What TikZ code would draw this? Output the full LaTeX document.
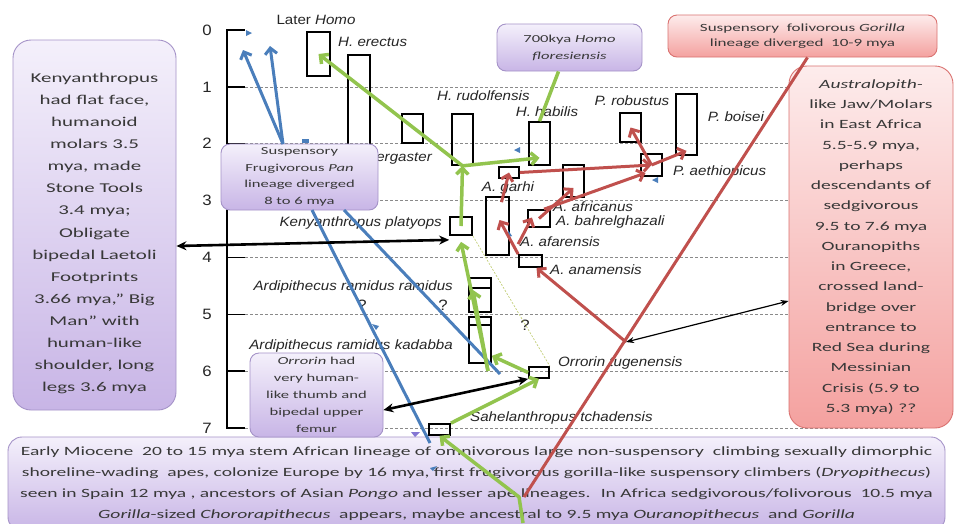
\documentclass[tikz,border=0pt]{standalone}
\usepackage{fontspec}
\setmainfont{Carlito}
\newfontfamily\boxfont{Carlito}[FakeStretch=1.55]
\newfontfamily\labfont{Liberation Sans}[FakeStretch=1.12]
\usetikzlibrary{arrows.meta,positioning}
\definecolor{lavtop}{HTML}{F4F0FB}
\definecolor{lavbot}{HTML}{C8B5E6}
\definecolor{lavrim}{HTML}{A593C8}
\definecolor{pinktop}{HTML}{FDECEC}
\definecolor{pinkbot}{HTML}{F4A19F}
\definecolor{pinkrim}{HTML}{DA7270}
\definecolor{lgreen}{HTML}{92C44E}
\definecolor{lred}{HTML}{C0504D}
\definecolor{lblue}{HTML}{4A7EBB}
\definecolor{boxtext}{HTML}{383838}
\definecolor{guide}{HTML}{8A8A8A}
\definecolor{olivedot}{HTML}{C4D07A}

\begin{document}
\begin{tikzpicture}[x=1pt,y=-1pt,>={Straight Barb[length=6pt,width=12pt]},
spbar/.style={draw,line width=1.7pt,inner sep=0pt},
sp/.style={font=\labfont\itshape\fontsize{13.5}{16}\selectfont,inner sep=0pt,text=black!85},
yr/.style={font=\labfont\fontsize{15}{17}\selectfont,inner sep=0pt,text=black!85},
guideline/.style={guide,line width=0.8pt,dash pattern=on 3pt off 2pt},
axisline/.style={line width=1.6pt},
lavbox/.style={draw=lavrim,line width=0.9pt,rounded corners=9pt,top color=lavtop,bottom color=lavbot,align=center,text=boxtext,inner sep=0pt},
pinkbox/.style={draw=pinkrim,line width=0.9pt,rounded corners=9pt,top color=pinktop,bottom color=pinkbot,align=center,text=boxtext,inner sep=0pt},
grn/.style={->,lgreen,line width=3.5pt},
rd/.style={->,lred,line width=3pt},
blu/.style={->,lblue,line width=3pt},
blk/.style={{Stealth[length=10pt,width=9pt]}-{Stealth[length=10pt,width=9pt]},line width=2.6pt},
thinblk/.style={{Stealth[length=8pt,width=6pt]}-{Stealth[length=8pt,width=6pt]},line width=1.2pt},
bluemark/.style={fill=lblue}]
\useasboundingbox (0,0) rectangle (957,523);
\fill[white] (0,0) rectangle (957,523);

\draw[guideline] (245,86.9) -- (925,86.9);
\draw[guideline] (245,143.7) -- (925,143.7);
\draw[guideline] (245,200.6) -- (925,200.6);
\draw[guideline] (245,257.4) -- (925,257.4);
\draw[guideline] (245,314.3) -- (925,314.3);
\draw[guideline] (245,371.1) -- (925,371.1);
\draw[guideline] (245,428) -- (925,428);
\draw[axisline] (245,30) -- (227,30) -- (227,428) -- (245,428);
\draw[axisline] (227,86.9) -- (245,86.9);
\draw[axisline] (227,143.7) -- (245,143.7);
\draw[axisline] (227,200.6) -- (245,200.6);
\draw[axisline] (227,257.4) -- (245,257.4);
\draw[axisline] (227,314.3) -- (245,314.3);
\draw[axisline] (227,371.1) -- (245,371.1);
\node[yr] (y0) at (207,30) {0};
\node[yr] (y1) at (207,86.9) {1};
\node[yr] (y2) at (207,143.7) {2};
\node[yr] (y3) at (207,200.6) {3};
\node[yr] (y4) at (207,257.4) {4};
\node[yr] (y5) at (207,314.3) {5};
\node[yr] (y6) at (207,371.1) {6};
\node[yr] (y7) at (207,428) {7};

\node[spbar,minimum width=23pt,minimum height=44pt] (erectus) at (318.5,54) {};
\node[spbar,minimum width=22pt,minimum height=125pt] (ergaster) at (359,117.5) {};
\node[spbar,minimum width=21pt,minimum height=29pt] (earlyhomo) at (412.5,128.5) {};
\node[spbar,minimum width=21pt,minimum height=51pt] (rudolfensis) at (462.5,139.5) {};
\node[spbar,minimum width=21pt,minimum height=43pt] (habilis) at (539.5,143.5) {};
\node[spbar,minimum width=20pt,minimum height=11pt] (garhi) at (509,172.5) {};
\node[spbar,minimum width=21pt,minimum height=32pt] (africanus) at (573.5,181) {};
\node[spbar,minimum width=22pt,minimum height=17pt] (bahr) at (539,218.5) {};
\node[spbar,minimum width=23pt,minimum height=58pt] (afarensis) at (497.5,226) {};
\node[spbar,minimum width=23pt,minimum height=12pt] (anamensis) at (530.5,261) {};
\node[spbar,minimum width=22pt,minimum height=18pt] (platyops) at (461,226) {};
\node[spbar,minimum width=21pt,minimum height=29pt] (robustus) at (630.5,127.5) {};
\node[spbar,minimum width=21pt,minimum height=61pt] (boisei) at (686.5,124.5) {};
\node[spbar,minimum width=21pt,minimum height=22pt] (aethiopicus) at (651.5,165) {};
\node[spbar,minimum width=22pt,minimum height=34pt] (ramidus) at (480,295) {};
\node[spbar,minimum width=22pt,minimum height=46pt] (kadabba) at (480,340) {};
\node[spbar,minimum width=20pt,minimum height=11pt] (orrorin) at (539,372.5) {};
\node[spbar,minimum width=21pt,minimum height=11pt] (sahel) at (439.5,429.5) {};
\draw[line width=1.7pt] (469,288) -- (491,288);
\draw[line width=1.7pt] (469,325) -- (491,325);

\node[sp] (llater) at (316,20) {\upshape Later \itshape Homo};
\node[sp,anchor=west] (lerectus) at (338,42) {H. erectus};
\node[sp,anchor=east] (lergaster) at (432,158) {H. ergaster};
\node[sp,anchor=west] (lrudolf) at (437,96) {H. rudolfensis};
\node[sp] (lhabilis) at (547,112) {H. habilis};
\node[sp] (lrobustus) at (632,101) {P. robustus};
\node[sp] (lboisei) at (736,117) {P. boisei};
\node[sp,anchor=west] (laeth) at (673,172) {P. aethiopicus};
\node[sp] (lgarhi) at (508,188) {A. garhi};
\node[sp,anchor=west] (lafric) at (553,207) {A. africanus};
\node[sp,anchor=west] (lbahr) at (556,222) {A. bahrelghazali};
\node[sp,anchor=west] (lafar) at (520,242) {A. afarensis};
\node[sp,anchor=west] (lanam) at (550,270) {A. anamensis};
\node[sp,anchor=east] (lplaty) at (442,223) {Kenyanthropus platyops};
\node[sp,anchor=east] (lramidus) at (453,287) {Ardipithecus ramidus ramidus};
\node[sp,anchor=east] (lkadabba) at (453,346) {Ardipithecus ramidus kadabba};
\node[sp,anchor=west] (lorrorin) at (558,363) {Orrorin tugenensis};
\node[sp,anchor=west] (lsahel) at (470,418) {Sahelanthropus tchadensis};
\node[yr] (q1) at (362,305) {?};
\node[yr] (q2) at (443,305) {?};
\node[yr] (q3) at (525,325) {?};

\draw[olivedot,line width=0.7pt,dash pattern=on 2pt off 1.5pt] (platyops.south east) -- (orrorin.north east);

\node[lavbox,rounded corners=18pt,minimum width=163pt,minimum height=370pt] (leftbox) at (94.5,225) {};
\node[align=center,text=boxtext,font=\boxfont\fontsize{13.5}{22.1}\selectfont] (lefttxt) at (94.5,233.5) {Kenyanthropus\\had flat face,\\humanoid\\molars 3.5\\mya, made\\Stone Tools\\3.4  mya;\\Obligate\\bipedal Laetoli\\Footprints\\3.66 mya,” Big\\Man” with\\human-like\\shoulder, long\\legs 3.6 mya};
\node[pinkbox,rounded corners=18pt,minimum width=164pt,minimum height=362pt,font=\boxfont\fontsize{12.6}{20.25}\selectfont] (rightbox) at (871,247) {\textit{Australopith-}\\like Jaw/Molars\\in East Africa\\5.5-5.9 mya,\\perhaps\\descendants  of\\sedgivorous\\9.5 to 7.6 mya\\Ouranopiths\\in Greece,\\crossed  land-\\bridge  over\\entrance to\\Red Sea during\\Messinian\\Crisis (5.9 to\\5.3 mya) ??};
\node[lavbox,rounded corners=14pt,minimum width=937pt,minimum height=94pt,font=\boxfont\fontsize{12.6}{21}\selectfont] (basebox) at (476.5,484) {Early Miocene~ 20 to 15 mya stem African lineage of omnivorous large non-suspensory~ climbing sexually dimorphic\\shoreline-wading~ apes, colonize Europe by 16 mya, first frugivorous gorilla-like suspensory climbers (\textit{Dryopithecus})\\seen in Spain 12 mya , ancestors of Asian \textit{Pongo} and lesser ape lineages.~ In Africa sedgivorous/folivorous~ 10.5 mya\\\textit{Gorilla}-sized \textit{Chororapithecus}~ appears, maybe ancestral to 9.5 mya \textit{Ouranopithecus}~ and \textit{Gorilla}};
\node[lavbox,minimum width=157pt,minimum height=66pt,font=\boxfont\fontsize{10.7}{16.5}\selectfont] (panbox) at (299.5,177) {Suspensory\\Frugivorous \textit{Pan}\\lineage diverged\\8 to 6 mya};
\node[lavbox,minimum width=133pt,minimum height=84pt,font=\boxfont\fontsize{10.7}{17}\selectfont] (orrbox) at (316.5,395) {\textit{Orrorin} had\\very human-\\like thumb and\\bipedal upper\\femur};
\node[pinkbox,minimum width=269pt,minimum height=42pt,font=\boxfont\fontsize{11}{15}\selectfont] (gorbox) at (802.5,36) {Suspensory~ folivorous \textit{Gorilla}\\lineage diverged~ 10-9 mya};
\node[lavbox,minimum width=145pt,minimum height=47pt,font=\boxfont\fontsize{10.7}{17}\selectfont] (florbox) at (569.5,47.5) {700kya \textit{Homo}\\\textit{floresiensis}};

\coordinate (lateA) at (243,50);
\coordinate (lateB) at (270,46);
\coordinate (pantop) at (283,144);
\coordinate (panlowA) at (312,210);
\coordinate (panlowB) at (344,210);
\coordinate (blueA) at (430,443);
\coordinate (blueB) at (500,374);
\coordinate (ardj) at (488,371);
\coordinate (greenroot) at (523,523);
\coordinate (greenbend) at (519,497);
\coordinate (redroot) at (524,497);
\coordinate (orrj) at (626,342);

\fill[bluemark] (246,30) -- ++(6,3) -- ++(-6,3) -- cycle;
\fill[bluemark] (302,139) rectangle ++(7,4);
\fill[bluemark] (520,147) -- ++(-6,3) -- ++(6,3) -- cycle;
\fill[bluemark] (658,177) -- ++(-6,3) -- ++(6,3) -- cycle;
\fill[bluemark] (508,230) -- ++(4,6) -- ++(-4,1) -- cycle;
\fill[bluemark] (372,324) -- ++(7,2) -- ++(-3,4) -- cycle;
\fill[bluemark] (430,468) -- ++(7,-2) -- ++(-4,5) -- cycle;
\fill[lavrim!80!blue] (411,432) -- ++(9,0) -- ++(-5,5) -- cycle;

\draw[blu] (pantop) -- (lateA);
\draw[blu] (pantop) -- (lateB);
\draw[lblue,line width=3pt] (panlowA) -- (blueA);
\draw[lblue,line width=3pt] (panlowB) -- (blueB);

\draw[lred,line width=3pt] ([xshift=5pt]gorbox.south) -- (redroot);
\draw[rd] (orrj) -- ([xshift=6pt]anamensis.south);
\draw[rd] (anamensis.north west) -- ([xshift=2pt,yshift=6pt]afarensis.center);
\draw[rd] ([yshift=10pt]anamensis.north west) -- ([xshift=-7pt,yshift=1pt]bahr.center);
\draw[rd] ([xshift=4pt,yshift=-6pt]afarensis.north) -- (garhi.center);
\draw[rd] (bahr.center) -- ([yshift=-7pt]africanus.center);
\draw[rd] (garhi.east) -- (aethiopicus.center);
\draw[rd] ([xshift=5pt]bahr.north) -- ([xshift=-6pt,yshift=-8pt]aethiopicus.center);
\draw[rd] (aethiopicus.center) -- (robustus.center);
\draw[rd] (aethiopicus.center) -- ([yshift=5pt]boisei.south);

\draw[grn] (rudolfensis.south) -- (erectus.center);
\draw[grn] (rudolfensis.south) -- ([yshift=8pt]habilis.south);
\draw[grn] (platyops.center) -- (rudolfensis.south);
\draw[grn] (ardj) -- ([yshift=-6pt]platyops.south);
\draw[grn] (ardj) -- ([xshift=-7pt,yshift=5pt]ramidus.center);
\draw[grn] (orrorin.west) -- ([yshift=8pt]kadabba.south east);
\draw[grn] (sahel.north east) -- (orrorin.south);
\draw[grn] (greenroot) -- (greenbend) -- (sahel.south);
\draw[lgreen,line width=3.5pt] ([xshift=-11pt]florbox.south) -- (habilis.north);

\draw[blk] ([yshift=-21pt]leftbox.east) -- ([yshift=-4pt]platyops.south west);
\draw[blk] ([yshift=-15pt]orrbox.east) -- (orrorin.south west);
\draw[thinblk] (orrj) -- ([yshift=-54pt]rightbox.west);
\end{tikzpicture}
\end{document}
